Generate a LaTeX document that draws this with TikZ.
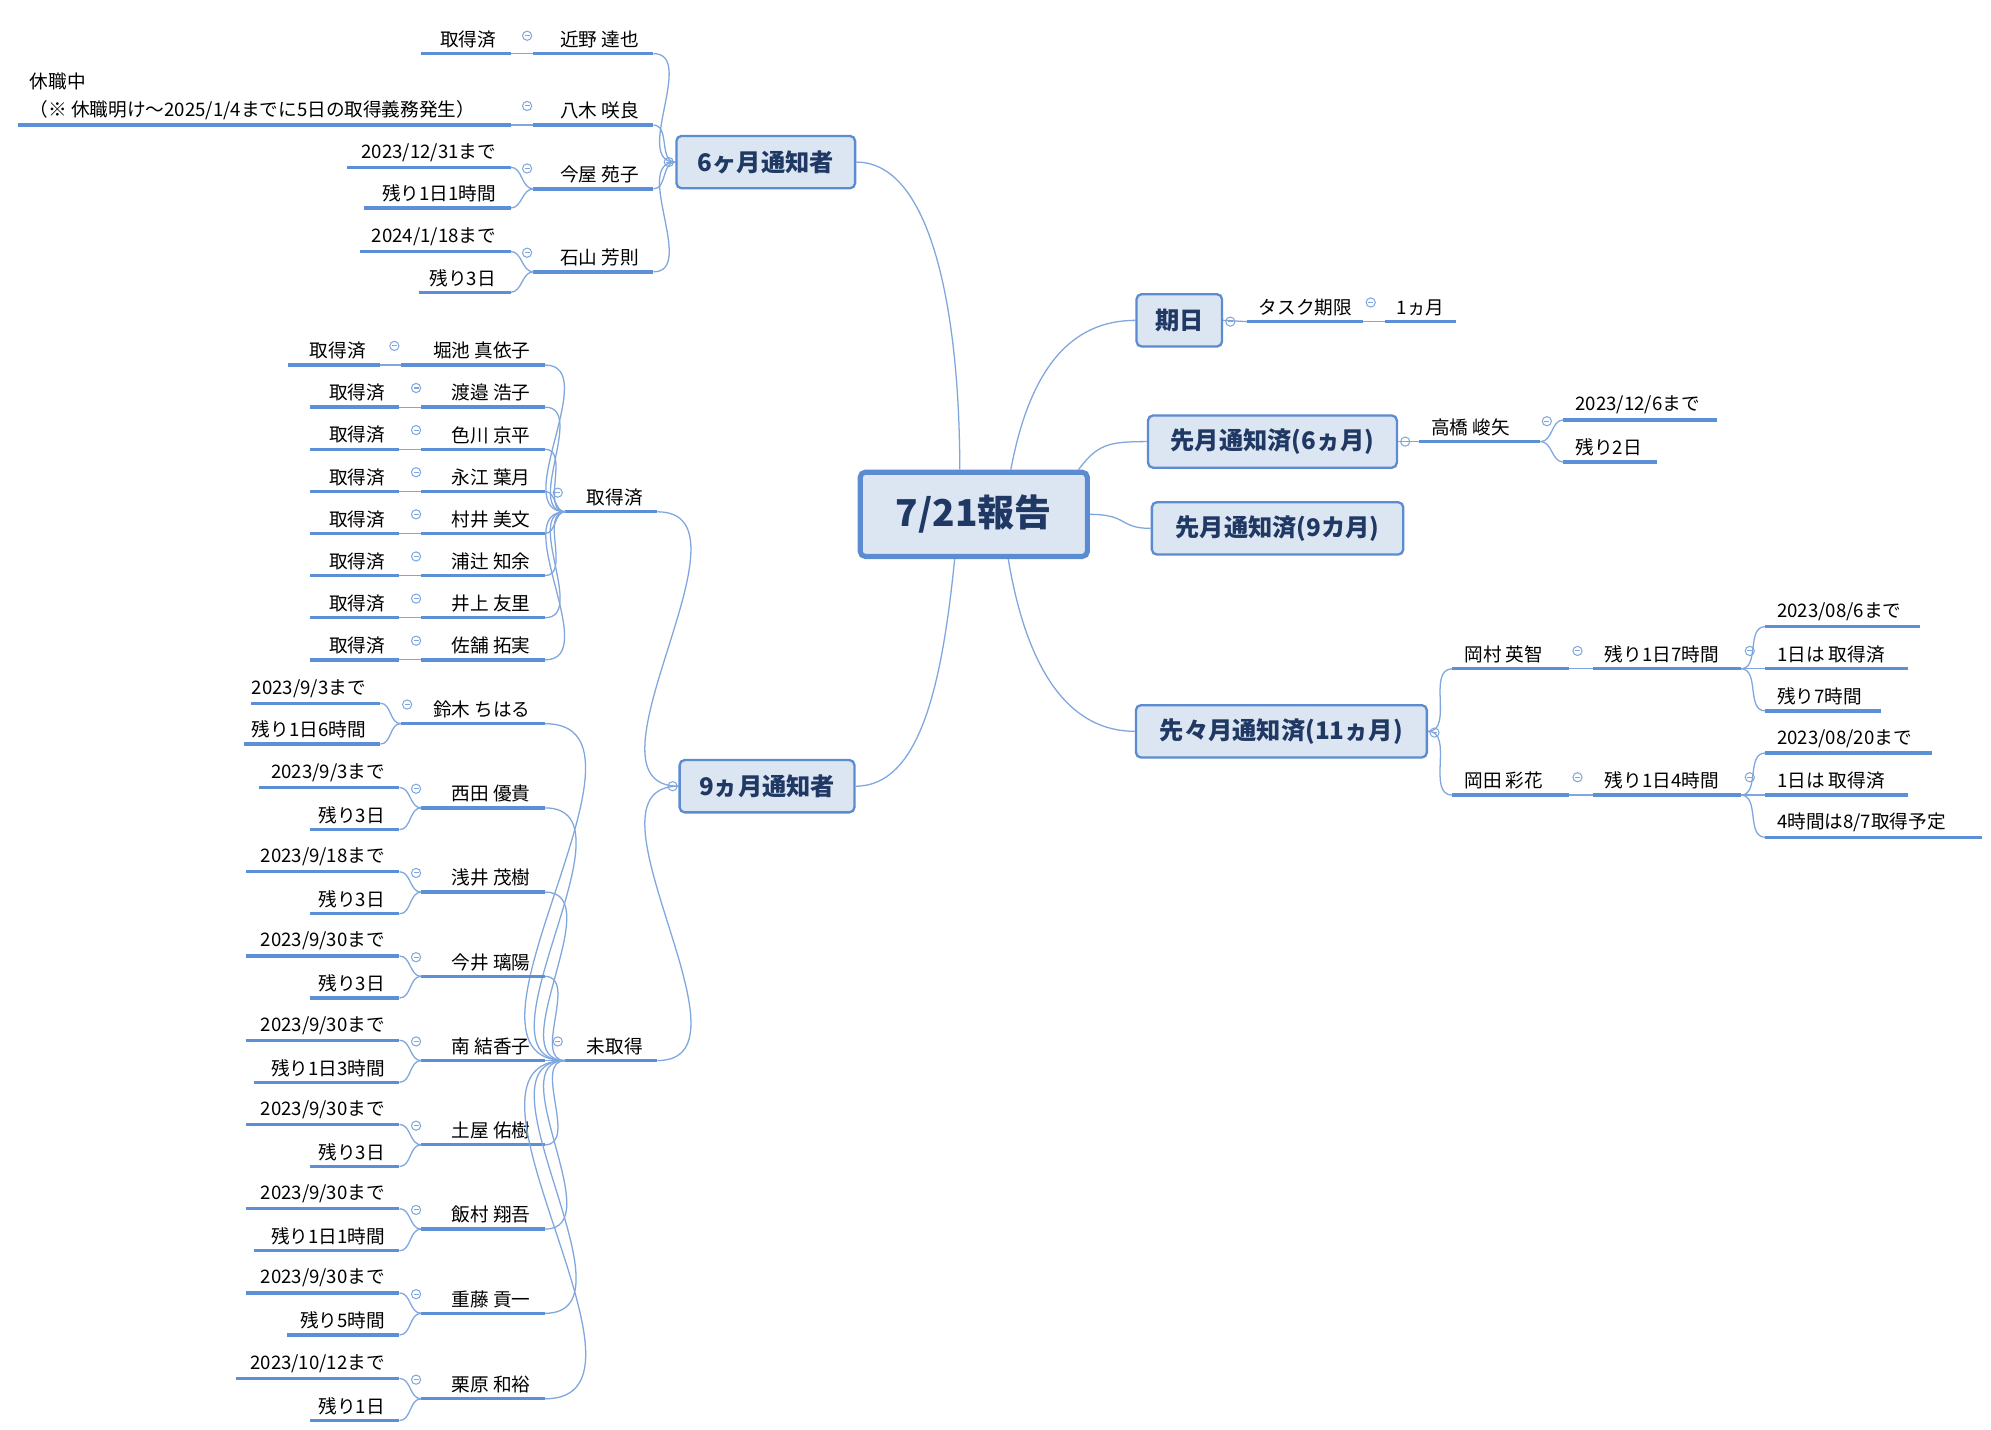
\documentclass[tikz,border=0pt]{standalone}
\usepackage{fontspec}
\setmainfont{Noto Sans CJK JP}
\usetikzlibrary{calc}
\definecolor{ln}{HTML}{5B8FD6}
\definecolor{cnc}{HTML}{7FA7DE}
\definecolor{bxc}{HTML}{DCE6F2}
\definecolor{bd}{HTML}{5B8BD0}
\definecolor{tt}{HTML}{1F3864}
\newcommand\LL[5]{\draw[ul] (#1,#3) coordinate (#5l) -- (#2,#3) coordinate (#5r); \node[tx,anchor=south east] (#5) at (#2-10,#3-3) {#4};}
\newcommand\RR[5]{\draw[ul] (#1,#3) coordinate (#5l) -- (#2,#3) coordinate (#5r); \node[tx,anchor=south west] (#5) at (#1+8,#3-3) {#4};}
\newcommand\mk[2]{\draw[cnc,line width=0.4pt] (#1,#2) circle (1.8pt); \draw[cnc,line width=0.4pt] (#1-2,#2) -- (#1+2,#2);}
\newcommand\Q[3]{\LL{330}{427}{#1}{#2}{#3}\LL{243}{313}{#1}{取得済}{#3a}\mk{326}{#1-15}\draw[cn](#3ar)--(#3l);\draw[cn](g1l) to[out=180,in=0] (#3r);}
\newcommand\U[7]{\LL{330}{427}{#1}{#2}{#7}\LL{#4}{313}{#1-16}{#3}{#7a}\LL{#6}{313}{#1+17}{#5}{#7b}\mk{326}{#1-15}\draw[cn](#7l) to[out=180,in=0] (#7ar);\draw[cn](#7l) to[out=180,in=0](#7br);\draw[cn](g2l) to[out=180,in=0](#7r);}
\begin{document}
\begin{tikzpicture}[x=0.5pt,y=-0.5pt,
 ul/.style={ln,line width=1.3pt},
 cn/.style={cnc,line width=0.5pt},
 tx/.style={inner sep=0.5pt,font=\fontsize{7.3}{11}\selectfont,text=black},
 bx/.style={draw=bd,fill=bxc,rounded corners=2pt,line width=0.9pt,font=\fontsize{9.5}{11}\selectfont\bfseries,text=tt,inner sep=0,minimum height=20.5pt}]
\fill[white] (0,0) rectangle (1560,1120);
\useasboundingbox (0,0) rectangle (1560,1120);
% root
\node[bx,line width=2pt,minimum width=89pt,minimum height=33pt,font=\fontsize{14.5}{16}\selectfont\bfseries] (root) at (763,403) {7/21報告};
% 6 months
\node[bx,minimum width=70pt] (six) at (600,127) {6ヶ月通知者};
\mk{524}{127}
\LL{418}{512}{42}{近野 達也}{k1}
\LL{330}{400}{42}{取得済}{k1a}
\mk{413}{28}
\draw[cn] (k1ar) -- (k1l);
\LL{418}{512}{98}{八木 咲良}{k2}
\draw[ul] (14,98) coordinate (k2al) -- (400,98) coordinate (k2ar);
\node[tx,anchor=south west,align=left] (k2a) at (22,95) {休職中\\（※ 休職明け～2025/1/4までに5日の取得義務発生）};
\mk{413}{83}
\draw[cn] (k2ar) -- (k2l);
\LL{418}{512}{148}{今屋 苑子}{k3}
\LL{272}{400}{131}{2023/12/31まで}{k3a}
\LL{285}{400}{163}{残り1日1時間}{k3b}
\mk{413}{132}
\draw[cn] (k3l) to[out=180,in=0] (k3ar);
\draw[cn] (k3l) to[out=180,in=0] (k3br);
\LL{418}{512}{213}{石山 芳則}{k4}
\LL{282}{400}{197}{2024/1/18まで}{k4a}
\LL{328}{400}{229}{残り3日}{k4b}
\mk{413}{198}
\draw[cn] (k4l) to[out=180,in=0] (k4ar);
\draw[cn] (k4l) to[out=180,in=0] (k4br);
\foreach \k in {k1,k2,k3,k4} {\draw[cn] (six.west) to[out=180,in=0] (\k r);}
% kijitsu
\node[bx,minimum width=33.5pt] (kiji) at (924,251) {期日};
\mk{964}{252}
\RR{977}{1068}{252}{タスク期限}{t1}
\mk{1074}{237}
\RR{1085}{1141}{252}{1ヵ月}{t2}
\draw[cn] (kiji.east) -- (t1l);
\draw[cn] (t1r) -- (t2l);
% sengetsu 6
\node[bx,minimum width=97.5pt] (s6) at (997,346) {先月通知済(6ヵ月)};
\mk{1101}{346}
\RR{1112}{1207}{346}{高橋 峻矢}{h1}
\mk{1212}{330}
\RR{1225}{1345}{329}{2023/12/6まで}{h1a}
\RR{1225}{1298}{362}{残り2日}{h1b}
\draw[cn] (s6.east) -- (h1l);
\draw[cn] (h1r) to[out=0,in=180] (h1al);
\draw[cn] (h1r) to[out=0,in=180] (h1bl);
% sengetsu 9
\node[bx,minimum width=98.5pt] (s9) at (1001,414) {先月通知済(9カ月)};
% sensengetsu 11
\node[bx,minimum width=114pt] (s11) at (1004,573) {先々月通知済(11ヵ月)};
\mk{1124}{574}
\RR{1138}{1229}{524}{岡村 英智}{o1}
\mk{1236}{510}
\RR{1248}{1364}{524}{残り1日7時間}{o1b}
\mk{1371}{510}
\RR{1383}{1504}{491}{2023/08/6まで}{o1c}
\RR{1383}{1495}{524}{1日は 取得済}{o1d}
\RR{1383}{1474}{557}{残り7時間}{o1e}
\RR{1138}{1229}{623}{岡田 彩花}{o2}
\mk{1236}{609}
\RR{1248}{1364}{623}{残り1日4時間}{o2b}
\mk{1371}{609}
\RR{1383}{1514}{590}{2023/08/20まで}{o2c}
\RR{1383}{1495}{623}{1日は 取得済}{o2d}
\RR{1383}{1553}{656}{4時間は8/7取得予定}{o2e}
\foreach \o in {o1,o2} {
 \draw[cn] (s11.east) to[out=0,in=180] (\o l);
 \draw[cn] (\o r) -- (\o bl);
 \foreach \c in {c,d,e} {\draw[cn] (\o br) to[out=0,in=180] (\o\c l);}
}
% 9 months
\node[bx,minimum width=68.5pt] (nine) at (601,616) {9ヵ月通知者};
\mk{527}{616}
\LL{443}{515}{401}{取得済}{g1}
\mk{437}{386}
\LL{443}{515}{831}{未取得}{g2}
\mk{437}{816}
\draw[cn] (nine.west) to[out=180,in=0] (g1r);
\draw[cn] (nine.west) to[out=180,in=0] (g2r);
\LL{314}{427}{286}{堀池 真依子}{q1}
\LL{226}{298}{286}{取得済}{q1a}
\mk{309}{271}
\draw[cn] (q1ar) -- (q1l);
\draw[cn] (g1l) to[out=180,in=0] (q1r);
\Q{319}{渡邉 浩子}{q2}
\Q{352}{色川 京平}{q3}
\Q{385}{永江 葉月}{q4}
\Q{418}{村井 美文}{q5}
\Q{451}{浦辻 知余}{q6}
\Q{484}{井上 友里}{q7}
\Q{517}{佐舗 拓実}{q8}
% misshutoku
\LL{314}{427}{567}{鈴木 ちはる}{u1}
\LL{197}{298}{551}{2023/9/3まで}{u1a}
\LL{191}{298}{583}{残り1日6時間}{u1b}
\mk{319}{552}
\draw[cn] (u1l) to[out=180,in=0] (u1ar);
\draw[cn] (u1l) to[out=180,in=0] (u1br);
\draw[cn] (g2l) to[out=180,in=0] (u1r);
\U{633}{西田 優貴}{2023/9/3まで}{203}{残り3日}{243}{u2}
\U{699}{浅井 茂樹}{2023/9/18まで}{193}{残り3日}{243}{u3}
\U{765}{今井 璃陽}{2023/9/30まで}{193}{残り3日}{243}{u4}
\U{831}{南 結香子}{2023/9/30まで}{193}{残り1日3時間}{199}{u5}
\U{897}{土屋 佑樹}{2023/9/30まで}{193}{残り3日}{243}{u6}
\U{963}{飯村 翔吾}{2023/9/30まで}{193}{残り1日1時間}{199}{u7}
\U{1029}{重藤 貢一}{2023/9/30まで}{193}{残り5時間}{225}{u8}
\U{1096}{栗原 和裕}{2023/10/12まで}{185}{残り1日}{243}{u9}
% root branches
\draw[cn] ($(root.north)+(-11,0)$) .. controls +(0,-120) and +(60,0) .. (six.east);
\draw[cn] ($(root.south)+(-15,0)$) .. controls +(-10,100) and +(50,0) .. (nine.east);
\draw[cn] ($(root.north)+(29,0)$) .. controls +(15,-80) and +(-50,0) .. (kiji.west);
\draw[cn] ($(root.north)+(82,0)$) .. controls +(15,-20) and +(-30,0) .. (s6.west);
\draw[cn] (root.east) .. controls +(30,0) and +(-25,0) .. (s9.west);
\draw[cn] ($(root.south)+(27,0)$) .. controls +(15,90) and +(-50,0) .. (s11.west);
\end{tikzpicture}
\end{document}
